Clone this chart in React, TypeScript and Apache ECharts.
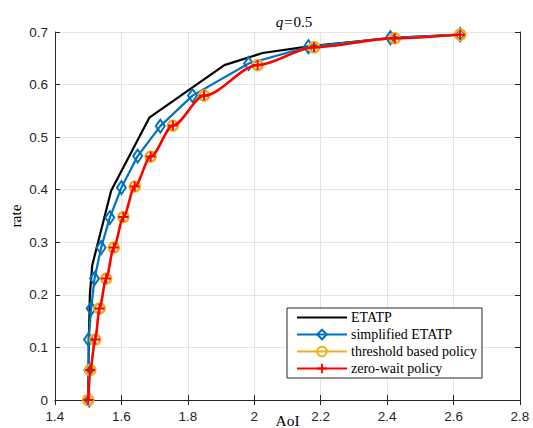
import React, { useEffect, useRef } from "react";
import * as echarts from "echarts";

const titleText = "q=0.5";
const xName = "AoI";
const yName = "rate";
const seriesNames = ["ETATP", "simplified ETATP", "threshold based policy", "zero-wait policy"];

const etatpX = [1.5, 1.502, 1.505, 1.512, 1.569, 1.684, 1.91, 2.025, 2.17, 2.42, 2.62];
const etatpY = [0, 0.115, 0.2, 0.256, 0.398, 0.537, 0.637, 0.66, 0.673, 0.689, 0.695];

const simpX = [1.503, 1.502, 1.501, 1.509, 1.519, 1.539, 1.565, 1.6, 1.649, 1.717, 1.814, 1.983, 2.163, 2.41, 2.62];
const simpY = [0, 0.057, 0.115, 0.174, 0.231, 0.29, 0.347, 0.404, 0.464, 0.521, 0.579, 0.64, 0.672, 0.689, 0.695];

const thrX = [1.5, 1.506, 1.521, 1.534, 1.554, 1.577, 1.606, 1.64, 1.688, 1.755, 1.849, 2.01, 2.18, 2.423, 2.62];
const thrY = [0, 0.057, 0.115, 0.174, 0.231, 0.29, 0.348, 0.406, 0.463, 0.522, 0.579, 0.637, 0.671, 0.688, 0.695];

const zwX = [1.5, 1.506, 1.521, 1.534, 1.554, 1.577, 1.606, 1.64, 1.688, 1.755, 1.849, 2.01, 2.18, 2.423, 2.62];
const zwY = [0, 0.057, 0.115, 0.174, 0.231, 0.29, 0.348, 0.406, 0.463, 0.522, 0.579, 0.637, 0.671, 0.688, 0.695];

const zip = (xs: number[], ys: number[]) => xs.map((x, i) => [x, ys[i]]);

const AX = "#262626";
const GRID = "#e3e3e3";
const SERIF = "'Liberation Serif', 'DejaVu Serif', serif";
const SANS = "'Liberation Sans', Arial, sans-serif";
const PLUS = "path://M4,0H6V4H10V6H6V10H4V6H0V4H4Z";
const LINE_ICON = "path://M0,5H50V7H0Z M0,0h0.05v0.05h-0.05Z M49.95,11.95h0.05v0.05h-0.05Z";

export default function App() {
  const ref = useRef<HTMLDivElement>(null);
  useEffect(() => {
    if (!ref.current) return;
    const chart = echarts.init(ref.current, null, { renderer: "svg" });
    const boxAxis = {
      axisLine: { show: true, lineStyle: { color: AX, width: 1 } },
      axisTick: { show: true, inside: true, length: 5, lineStyle: { color: AX } },
      axisLabel: { show: false },
      splitLine: { show: false },
    };
    chart.setOption({
      animation: false,
      backgroundColor: "#fff",
      title: {
        text: "{i|q}{e|=}0.5",
        left: 289,
        top: 9,
        textAlign: "center",
        textStyle: {
          fontFamily: SERIF,
          fontSize: 15,
          fontWeight: "normal",
          color: "#000",
          rich: {
            i: { fontFamily: SERIF, fontStyle: "italic", fontSize: 15, color: "#000" },
            e: { fontFamily: SERIF, fontSize: 15, color: "#000", padding: [0, 1, 0, 1] },
          },
        },
      },
      grid: { left: 55, right: 13, top: 32, bottom: 28, containLabel: false, outerBoundsMode: "none" },
      xAxis: [
        {
          type: "value",
          min: 1.4,
          max: 2.8,
          interval: 0.2,
          name: xName,
          nameLocation: "middle",
          nameGap: 12,
          nameMoveOverlap: false,
          nameTextStyle: { fontFamily: SERIF, fontSize: 15.5, color: "#000" },
          axisLine: { show: true, onZero: false, lineStyle: { color: AX, width: 1 } },
          axisTick: { show: true, inside: true, length: 5, lineStyle: { color: AX } },
          axisLabel: { color: AX, fontFamily: SANS, fontSize: 13.5, margin: 9 },
          splitLine: { show: true, lineStyle: { color: GRID, width: 1 } },
        },
        { type: "value", position: "top", min: 1.4, max: 2.8, interval: 0.2, ...boxAxis },
      ],
      yAxis: [
        {
          type: "value",
          min: 0,
          max: 0.7,
          interval: 0.1,
          name: yName,
          nameLocation: "middle",
          nameGap: 32,
          nameMoveOverlap: false,
          nameTextStyle: { fontFamily: SERIF, fontSize: 15.5, color: "#000" },
          axisLine: { show: true, onZero: false, lineStyle: { color: AX, width: 1 } },
          axisTick: { show: true, inside: true, length: 5, lineStyle: { color: AX } },
          axisLabel: { color: AX, fontFamily: SANS, fontSize: 13.5, margin: 7 },
          splitLine: { show: true, lineStyle: { color: GRID, width: 1 } },
        },
        { type: "value", position: "right", min: 0, max: 0.7, interval: 0.1, ...boxAxis },
      ],
      legend: {
        orient: "vertical",
        left: 287,
        top: 308,
        itemWidth: 50,
        itemHeight: 12,
        itemGap: 2,
        padding: [2, 5, 2, 9],
        backgroundColor: "#fff",
        borderColor: AX,
        borderWidth: 1,
        borderRadius: 0,
        textStyle: { fontFamily: SERIF, fontSize: 14, lineHeight: 15, color: "#000", padding: [0, 0, 0, -1] },
        data: [
          { name: seriesNames[0], icon: LINE_ICON, itemStyle: { color: "#000" } },
          seriesNames[1],
          seriesNames[2],
          seriesNames[3],
        ],
      },
      series: [
        {
          name: seriesNames[0],
          type: "line",
          data: zip(etatpX, etatpY),
          symbol: "none",
          color: "#000",
          lineStyle: { color: "#000", width: 2.2 },
          z: 2,
        },
        {
          name: seriesNames[1],
          type: "line",
          data: zip(simpX, simpY),
          symbol: "diamond",
          symbolSize: [9, 13],
          color: "#0072BD",
          itemStyle: { color: "rgba(255,255,255,0)", borderColor: "#0072BD", borderWidth: 2 },
          lineStyle: { color: "#0072BD", width: 2.2 },
          z: 3,
        },
        {
          name: seriesNames[2],
          type: "line",
          data: zip(thrX, thrY),
          symbol: "circle",
          symbolSize: 10,
          smooth: 0.3,
          smoothMonotone: "x",
          color: "#EDB120",
          itemStyle: { color: "rgba(255,255,255,0)", borderColor: "#EDB120", borderWidth: 2.5 },
          lineStyle: { color: "#EDB120", width: 2.2 },
          z: 4,
        },
        {
          name: seriesNames[3],
          type: "line",
          data: zip(zwX, zwY),
          symbol: PLUS,
          symbolSize: 10,
          smooth: 0.3,
          smoothMonotone: "x",
          color: "#FF0000",
          itemStyle: { color: "#FF0000" },
          lineStyle: { color: "#FF0000", width: 2.5 },
          z: 5,
        },
      ],
    });
    return () => chart.dispose();
  }, []);
  return (
    <div
      ref={ref}
      style={{ position: "absolute", left: 0, top: 0, width: 533, height: 428, background: "#fff" }}
    />
  );
}
